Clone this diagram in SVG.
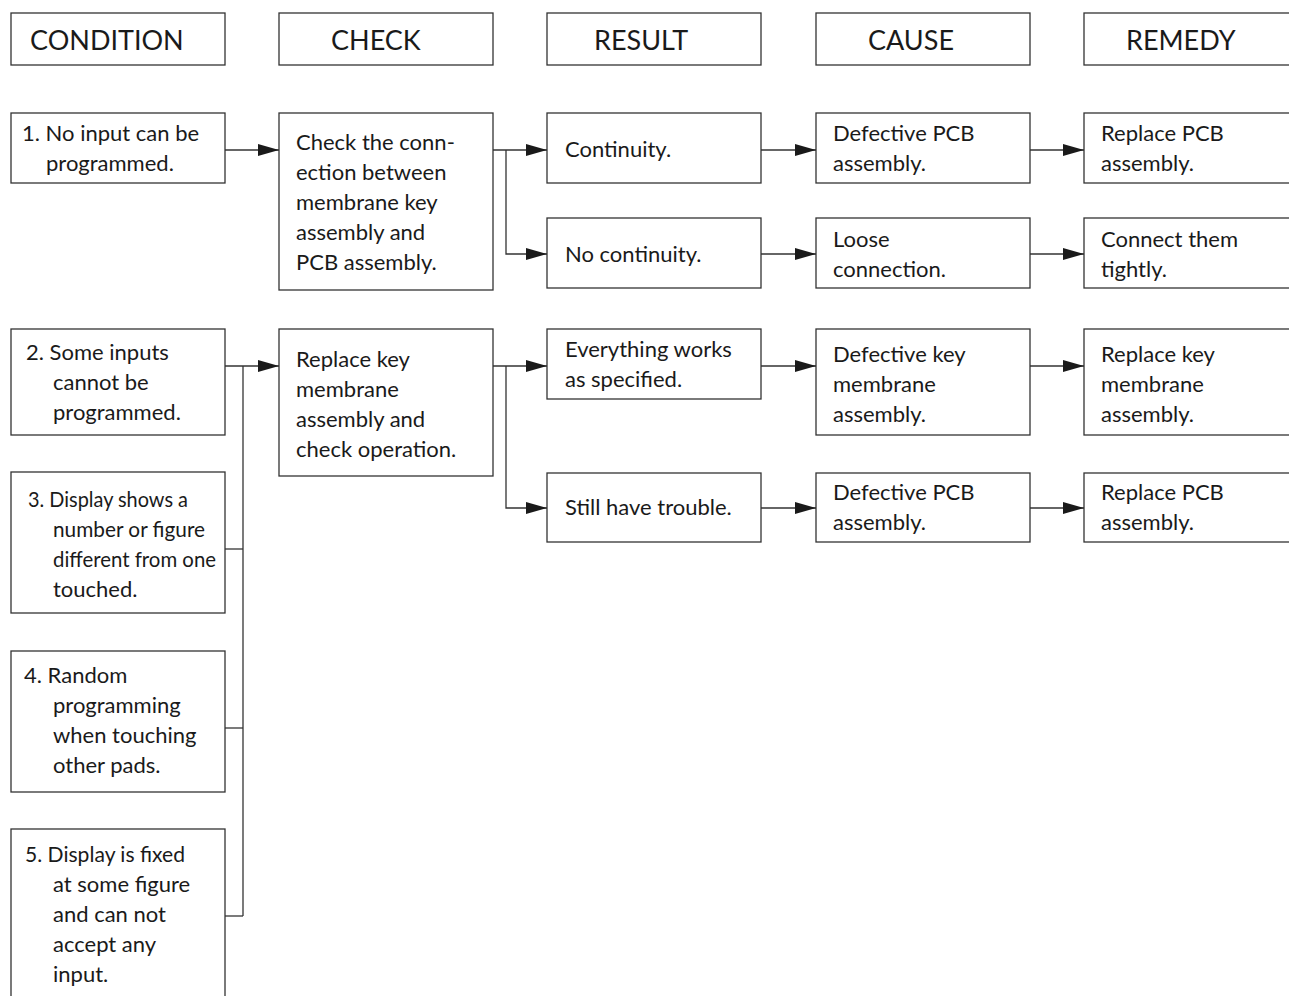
<svg xmlns="http://www.w3.org/2000/svg" width="1289" height="996" viewBox="0 0 1289 996">
<defs>
<marker id="ah" markerUnits="userSpaceOnUse" markerWidth="22" markerHeight="12" refX="21" refY="6" orient="auto">
<path d="M0,0 L21,6 L0,12 Z" fill="#1a1a1a"/>
</marker>
<style>
rect{fill:#fff;stroke:#333;stroke-width:1.3}
text{font-family:Lato,"Liberation Sans",sans-serif;font-size:22px;fill:#1a1a1a}
.h{font-size:27px}
.c line,.c path{stroke:#333;stroke-width:1.3;fill:none}
.a{marker-end:url(#ah)}
</style>
</defs>
<rect x="0" y="0" width="1289" height="996" style="stroke:none"/>
<g id="h-condition"><rect x="11" y="13" width="214" height="52"/><text class="h" x="30" y="50">CONDITION</text></g>
<g id="h-check"><rect x="279" y="13" width="214" height="52"/><text class="h" x="331" y="50">CHECK</text></g>
<g id="h-result"><rect x="547" y="13" width="214" height="52"/><text class="h" x="594" y="50">RESULT</text></g>
<g id="h-cause"><rect x="816" y="13" width="214" height="52"/><text class="h" x="868" y="50">CAUSE</text></g>
<g id="h-remedy"><rect x="1084" y="13" width="230" height="52"/><text class="h" x="1126" y="50">REMEDY</text></g>

<g id="cond1"><rect x="11" y="113" width="214" height="70"/><text x="22" y="141">1. No input can be</text><text x="46" y="171">programmed.</text></g>
<g id="check1"><rect x="279" y="113" width="214" height="177"/><text x="296" y="150">Check the conn-</text><text x="296" y="180">ection between</text><text x="296" y="210">membrane key</text><text x="296" y="240">assembly and</text><text x="296" y="270">PCB assembly.</text></g>
<g id="res1a"><rect x="547" y="113" width="214" height="70"/><text x="565" y="157">Continuity.</text></g>
<g id="res1b"><rect x="547" y="218" width="214" height="70"/><text x="565" y="262">No continuity.</text></g>
<g id="cause1a"><rect x="816" y="113" width="214" height="70"/><text x="833" y="141">Defective PCB</text><text x="833" y="171">assembly.</text></g>
<g id="cause1b"><rect x="816" y="218" width="214" height="70"/><text x="833" y="247">Loose</text><text x="833" y="277">connection.</text></g>
<g id="rem1a"><rect x="1084" y="113" width="230" height="70"/><text x="1101" y="141">Replace PCB</text><text x="1101" y="171">assembly.</text></g>
<g id="rem1b"><rect x="1084" y="218" width="230" height="70"/><text x="1101" y="247">Connect them</text><text x="1101" y="277">tightly.</text></g>

<g id="cond2"><rect x="11" y="329" width="214" height="106"/><text x="26" y="360">2. Some inputs</text><text x="53" y="390">cannot be</text><text x="53" y="420">programmed.</text></g>
<g id="cond3"><rect x="11" y="472" width="214" height="141"/><text x="28" y="507" textLength="160" lengthAdjust="spacingAndGlyphs">3. Display shows a</text><text x="53" y="537" textLength="152" lengthAdjust="spacingAndGlyphs">number or figure</text><text x="53" y="567" textLength="163" lengthAdjust="spacingAndGlyphs">different from one</text><text x="53" y="597">touched.</text></g>
<g id="cond4"><rect x="11" y="651" width="214" height="141"/><text x="24" y="683">4. Random</text><text x="53" y="713">programming</text><text x="53" y="743">when touching</text><text x="53" y="773">other pads.</text></g>
<g id="cond5"><rect x="11" y="829" width="214" height="190"/><text x="25" y="862" textLength="160" lengthAdjust="spacingAndGlyphs">5. Display is fixed</text><text x="53" y="892">at some figure</text><text x="53" y="922">and can not</text><text x="53" y="952">accept any</text><text x="53" y="982">input.</text></g>
<g id="check2"><rect x="279" y="329" width="214" height="147"/><text x="296" y="367">Replace key</text><text x="296" y="397">membrane</text><text x="296" y="427">assembly and</text><text x="296" y="457">check operation.</text></g>
<g id="res2a"><rect x="547" y="329" width="214" height="70"/><text x="565" y="357">Everything works</text><text x="565" y="387">as specified.</text></g>
<g id="res2b"><rect x="547" y="473" width="214" height="69"/><text x="565" y="515">Still have trouble.</text></g>
<g id="cause2a"><rect x="816" y="329" width="214" height="106"/><text x="833" y="362">Defective key</text><text x="833" y="392">membrane</text><text x="833" y="422">assembly.</text></g>
<g id="cause2b"><rect x="816" y="473" width="214" height="69"/><text x="833" y="500">Defective PCB</text><text x="833" y="530">assembly.</text></g>
<g id="rem2a"><rect x="1084" y="329" width="230" height="106"/><text x="1101" y="362">Replace key</text><text x="1101" y="392">membrane</text><text x="1101" y="422">assembly.</text></g>
<g id="rem2b"><rect x="1084" y="473" width="230" height="69"/><text x="1101" y="500">Replace PCB</text><text x="1101" y="530">assembly.</text></g>

<g id="connectors" class="c">
<line class="a" x1="225" y1="150" x2="279" y2="150"/>
<line class="a" x1="493" y1="150" x2="547" y2="150"/>
<path class="a" d="M506,150 V254 H547"/>
<line class="a" x1="761" y1="150" x2="816" y2="150"/>
<line class="a" x1="761" y1="254" x2="816" y2="254"/>
<line class="a" x1="1030" y1="150" x2="1084" y2="150"/>
<line class="a" x1="1030" y1="254" x2="1084" y2="254"/>
<line class="a" x1="225" y1="366" x2="279" y2="366"/>
<path d="M243,366 V916"/>
<line x1="225" y1="549" x2="243" y2="549"/>
<line x1="225" y1="728" x2="243" y2="728"/>
<line x1="225" y1="916" x2="243" y2="916"/>
<line class="a" x1="493" y1="366" x2="547" y2="366"/>
<path class="a" d="M506,366 V508 H547"/>
<line class="a" x1="761" y1="366" x2="816" y2="366"/>
<line class="a" x1="761" y1="508" x2="816" y2="508"/>
<line class="a" x1="1030" y1="366" x2="1084" y2="366"/>
<line class="a" x1="1030" y1="508" x2="1084" y2="508"/>
</g>
</svg>
